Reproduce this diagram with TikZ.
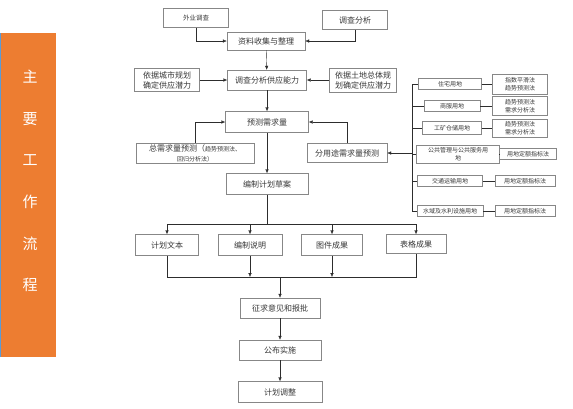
\documentclass[tikz,border=0pt]{standalone}
\usepackage{fontspec}
\usepackage{tikz}
\usetikzlibrary{arrows.meta}
\newfontfamily\cjk{Noto Sans CJK SC}
\definecolor{flowgray}{RGB}{135,135,135}
\definecolor{flowtext}{RGB}{55,55,55}
\definecolor{flowline}{RGB}{45,45,45}
\definecolor{flowbar}{RGB}{237,125,49}
\definecolor{flowedge}{RGB}{91,155,213}

\begin{document}
\begin{tikzpicture}[x=1pt,y=-1pt,
  box/.style={draw=flowgray,fill=white,text=flowtext,inner sep=0pt,align=center,
    font=\cjk\fontsize{8}{10}\selectfont},
  tinybox/.style={box,font=\cjk\fontsize{6}{8}\selectfont},
  arr/.style={flowline,-{Latex[length=4pt,width=3.5pt]}},
  ln/.style={flowline}]
  \useasboundingbox (0,0) rectangle (573,408);
  \fill[flowbar](0,33)rectangle(56,357);
  \draw[flowedge,line width=1pt](0.5,33)--(0.5,357);
  \node[text=white,align=center,font=\cjk\fontsize{15}{41.6}\selectfont] (title) at (30,181) {主\\要\\工\\作\\流\\程};
  \node[box,minimum width=65,minimum height=19,font=\cjk\fontsize{6.5}{8}\selectfont] (waiye) at (196,18) {外业调查};
  \node[box,minimum width=65,minimum height=19] (diaocha) at (355,20) {调查分析};
  \node[box,minimum width=78,minimum height=18] (ziliao) at (266,41) {资料收集与整理};
  \node[box,minimum width=65,minimum height=23] (yiju1) at (167,80) {依据城市规划\\确定供应潜力};
  \node[box,minimum width=79,minimum height=20] (gongying) at (267,80) {调查分析供应能力};
  \node[box,minimum width=67,minimum height=24] (yiju2) at (363,80) {依据土地总体规\\划确定供应潜力};
  \node[box,minimum width=83,minimum height=21] (yuce) at (267,122) {预测需求量};
  \node[box,minimum width=118,minimum height=20] (zong) at (195,153) {总需求量预测（{\fontsize{6}{8}\selectfont 趋势预测法、}\\{\fontsize{6}{8}\selectfont 回归分析法）}};
  \node[box,minimum width=80,minimum height=19] (fen) at (347,153) {分用途需求量预测};
  \node[box,minimum width=82,minimum height=21] (caoan) at (267,184) {编制计划草案};
  \node[tinybox,minimum width=63,minimum height=11] (zhuzhai) at (450,84) {住宅用地};
  \node[tinybox,minimum width=56,minimum height=11] (shangfu) at (452,106) {商服用地};
  \node[tinybox,minimum width=59,minimum height=13] (gongkuang) at (452,128) {工矿仓储用地};
  \node[tinybox,minimum width=83,minimum height=18] (gonggong) at (458,154) {公共管理与公共服务用\\地};
  \node[tinybox,minimum width=65,minimum height=11] (jiaotong) at (450,181) {交通运输用地};
  \node[tinybox,minimum width=66,minimum height=11] (shuiyu) at (450,211) {水域及水利设施用地};
  \node[tinybox,minimum width=55,minimum height=20] (fa1) at (520,84) {指数平滑法\\趋势预测法};
  \node[tinybox,minimum width=55,minimum height=19] (fa2) at (520,106) {趋势预测法\\需求分析法};
  \node[tinybox,minimum width=55,minimum height=18] (fa3) at (520,128) {趋势预测法\\需求分析法};
  \node[tinybox,minimum width=57,minimum height=11] (fa4) at (528,154) {用地定额指标法};
  \node[tinybox,minimum width=60,minimum height=11] (fa5) at (525,181) {用地定额指标法};
  \node[tinybox,minimum width=60,minimum height=11] (fa6) at (525,211) {用地定额指标法};
  \node[box,minimum width=63,minimum height=21] (wenben) at (167,245) {计划文本};
  \node[box,minimum width=64,minimum height=21] (shuoming) at (250,245) {编制说明};
  \node[box,minimum width=61,minimum height=21] (tujian) at (332,245) {图件成果};
  \node[box,minimum width=60,minimum height=19] (biaoge) at (416,244) {表格成果};
  \node[box,minimum width=80,minimum height=20] (zhengqiu) at (280,308) {征求意见和报批};
  \node[box,minimum width=82,minimum height=20] (gongbu) at (280,350) {公布实施};
  \node[box,minimum width=84,minimum height=21] (tiaozheng) at (280,392) {计划调整};
  \draw[arr](waiye.south)|-(ziliao.west);
  \draw[arr](diaocha.south)|-(ziliao.east);
  \draw[arr](ziliao)--(gongying);
  \draw[arr](yiju1)--(gongying);
  \draw[arr](yiju2)--(gongying);
  \draw[arr](gongying)--(yuce);
  \draw[arr](zong.north)|-(yuce.west);
  \draw[arr](fen.north)|-(yuce.east);
  \draw[arr](yuce)--(caoan);
  \coordinate (brtop) at (412,84);
  \coordinate (brbot) at (412,211);
  \draw[ln](brtop)--(brbot);
  \foreach \n in {zhuzhai,shangfu,gongkuang,gonggong,jiaotong,shuiyu}
    \draw[ln](brtop|-\n.west)--(\n.west);
  \draw[arr](brtop|-fen.east)--(fen.east);
  \draw[ln](zhuzhai)--(fa1); \draw[ln](shangfu)--(fa2); \draw[ln](gongkuang)--(fa3);
  \draw[ln](gonggong)--(fa4); \draw[ln](jiaotong)--(fa5); \draw[ln](shuiyu)--(fa6);
  \coordinate (bus1) at (267,224);
  \coordinate (bus2) at (280,277);
  \draw[ln](caoan)--(bus1);
  \draw[ln](wenben.north|-bus1)--(biaoge.north|-bus1);
  \foreach \n in {wenben,shuoming,tujian,biaoge}
    \draw[arr](\n.north|-bus1)--(\n.north);
  \draw[ln](wenben.south)--(wenben.south|-bus2)--(biaoge.south|-bus2)--(biaoge.south);
  \draw[arr](shuoming.south)--(shuoming.south|-bus2);
  \draw[arr](tujian.south)--(tujian.south|-bus2);
  \draw[arr](bus2)--(zhengqiu);
  \draw[arr](zhengqiu)--(gongbu);
  \draw[arr](gongbu)--(tiaozheng);
\end{tikzpicture}
\end{document}
